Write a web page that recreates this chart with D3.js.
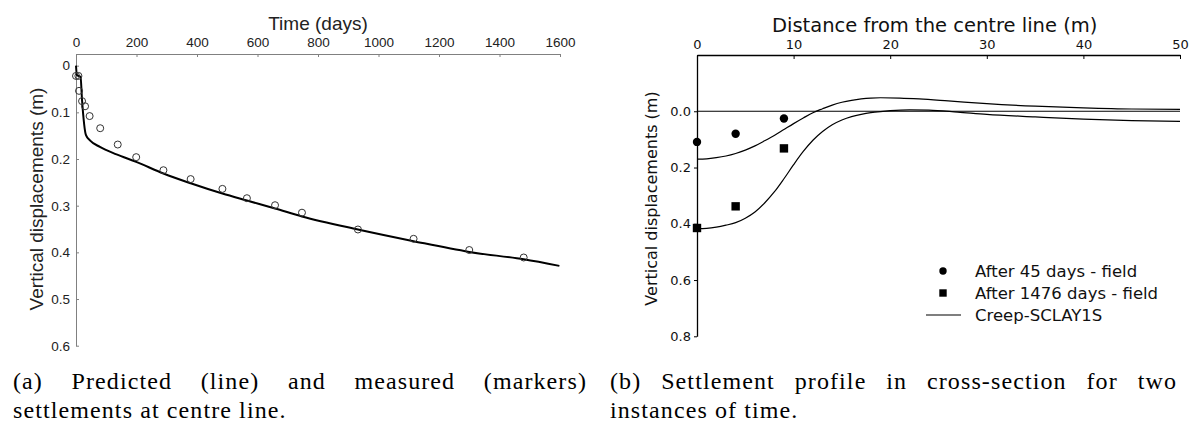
<!DOCTYPE html>
<html>
<head>
<meta charset="utf-8">
<script src="https://cdn.jsdelivr.net/npm/d3@7"></script>
<style>
  html, body { margin: 0; padding: 0; background: #fff; }
  svg { display: block; }
</style>
</head>
<body>
<svg id="chart" width="1190" height="428"></svg>
<script>
// ---------- Data: panel (a) ----------
const timeTicks = [0, 200, 400, 600, 800, 1000, 1200, 1400, 1600];
const settleTicks = [0, 0.1, 0.2, 0.3, 0.4, 0.5, 0.6];
const measuredTime = [0, 8, 10, 20, 30, 45, 80, 138, 199, 289, 379, 484, 565, 658, 747, 932, 1116, 1300, 1480];
const measuredSettle = [0.022, 0.022, 0.054, 0.076, 0.087, 0.108, 0.134, 0.169, 0.196, 0.224, 0.243, 0.264, 0.284, 0.299, 0.315, 0.351, 0.371, 0.395, 0.411];
const predTime = [0, 3, 15, 20, 33, 46, 79, 134, 199, 289, 379, 484, 565, 658, 747, 932, 1116, 1300, 1480, 1598];
const predSettle = [0, 0.02, 0.024, 0.074, 0.149, 0.16, 0.174, 0.19, 0.206, 0.231, 0.252, 0.274, 0.289, 0.306, 0.323, 0.351, 0.376, 0.399, 0.415, 0.429];

// ---------- Data: panel (b) ----------
const distTicks = [0, 10, 20, 30, 40, 50];
const dispTicks = [0, 0.2, 0.4, 0.6, 0.8];
const field45Dist = [0, 4, 9];
const field45Disp = [0.109, 0.080, 0.026];
const field1476Dist = [0, 4, 9];
const field1476Disp = [0.415, 0.338, 0.132];
const creep45Dist = [0, 1, 2, 3, 4, 5, 6, 7, 8, 9, 10, 11, 12, 13, 14, 15, 16, 17, 18, 19, 21, 23, 26, 30, 35, 40, 45, 50];
const creep45Disp = [0.170, 0.169, 0.165, 0.159, 0.150, 0.138, 0.123, 0.105, 0.086, 0.065, 0.044, 0.024, 0.005, -0.009, -0.022, -0.032, -0.039, -0.044, -0.047, -0.048, -0.047, -0.044, -0.037, -0.027, -0.018, -0.012, -0.008, -0.007];
const creep1476Dist = [0, 1, 2, 3, 4, 5, 6, 7, 8, 9, 10, 11, 12, 13, 14, 15, 16, 17, 18, 19, 20, 22, 24, 27, 30, 35, 40, 45, 50];
const creep1476Disp = [0.417, 0.416, 0.412, 0.405, 0.396, 0.380, 0.358, 0.326, 0.287, 0.240, 0.190, 0.143, 0.103, 0.072, 0.048, 0.031, 0.019, 0.011, 0.005, 0.001, -0.002, -0.005, -0.004, 0.003, 0.011, 0.020, 0.028, 0.033, 0.036];
const legendLabels = ["After 45 days - field", "After 1476 days - field", "Creep-SCLAY1S"];

const captionA = ["(a) Predicted (line) and measured (markers)", "settlements at centre line."];
const captionB = ["(b) Settlement profile in cross-section for two", "instances of time."];

const zip = (a, b) => a.map((v, i) => [v, b[i]]);

const svg = d3.select("#chart");

// ================= Panel (a) =================
const sansA = "'Liberation Sans', Arial, Helvetica, sans-serif";
const axisGray = "#808080";
const xA = d3.scaleLinear().domain([0, 1600]).range([76, 560]);
const yA = d3.scaleLinear().domain([-0.025, 0.6]).range([54, 345.7]);
const gA = svg.append("g");

const axA_x = gA.append("g").attr("transform", `translate(0,${yA(-0.025)})`)
  .call(d3.axisTop(xA).tickValues(timeTicks).tickSize(-3).tickSizeOuter(0).tickPadding(7.5).tickFormat(d3.format("d")));
const axA_y = gA.append("g").attr("transform", `translate(${xA(0)},0)`)
  .call(d3.axisLeft(yA).tickValues(settleTicks).tickSize(-3).tickSizeOuter(0).tickPadding(6)
    .tickFormat(d => d === 0 ? "0" : d3.format(".1f")(d)));
[axA_x, axA_y].forEach(ax => {
  ax.select(".domain").attr("stroke", axisGray).attr("stroke-width", 1);
  ax.selectAll(".tick line").attr("stroke", axisGray);
  ax.selectAll(".tick text").attr("fill", "#222").style("font-family", sansA).style("font-size", "13.5px");
});

gA.append("text").attr("x", (xA(0) + xA(1600)) / 2).attr("y", 29.5).attr("text-anchor", "middle")
  .style("font-family", sansA).style("font-size", "19px").attr("fill", "#222").text("Time (days)");
gA.append("text").attr("transform", `translate(42.6,199) rotate(-90)`).attr("text-anchor", "middle")
  .style("font-family", sansA).style("font-size", "19px").attr("fill", "#222").text("Vertical displacements (m)");

gA.append("path").datum(zip(predTime, predSettle))
  .attr("fill", "none").attr("stroke", "#000").attr("stroke-width", 2)
  .attr("d", d3.line().x(d => xA(d[0])).y(d => yA(d[1])).curve(d3.curveMonotoneX));

gA.selectAll("circle.meas").data(zip(measuredTime, measuredSettle)).join("circle")
  .attr("class", "meas").attr("cx", d => xA(d[0])).attr("cy", d => yA(d[1])).attr("r", 3.5)
  .attr("fill", "none").attr("stroke", "#333").attr("stroke-width", 1);

// ================= Panel (b) =================
const sansB = "'DejaVu Sans', sans-serif";
const xB = d3.scaleLinear().domain([0, 50]).range([697, 1180]);
const yB = d3.scaleLinear().domain([-0.2, 0.8]).range([55, 336.3]);
const gB = svg.append("g");

const axB_x = gB.append("g").attr("transform", `translate(0,${yB(-0.2)})`)
  .call(d3.axisTop(xB).tickValues(distTicks).tickSize(-4).tickSizeOuter(0).tickPadding(6).tickFormat(d3.format("d")));
const axB_y = gB.append("g").attr("transform", `translate(${xB(0)},0)`)
  .call(d3.axisLeft(yB).tickValues(dispTicks).tickSize(3).tickSizeOuter(0).tickPadding(3).tickFormat(d3.format(".1f")));
[axB_x, axB_y].forEach(ax => {
  ax.select(".domain").attr("stroke", "#000").attr("stroke-width", 1.3);
  ax.selectAll(".tick line").attr("stroke", "#000");
  ax.selectAll(".tick text").attr("fill", "#111").style("font-family", sansB).style("font-size", "13px");
});

gB.append("text").attr("x", 934.7).attr("y", 31.5).attr("text-anchor", "middle")
  .style("font-family", sansB).style("font-size", "19.5px").attr("fill", "#111").text("Distance from the centre line (m)");
gB.append("text").attr("transform", `translate(657,198.5) rotate(-90)`).attr("text-anchor", "middle")
  .style("font-family", sansB).style("font-size", "16px").attr("fill", "#111").text("Vertical displacements (m)");

// zero line
gB.append("line").attr("x1", xB(0)).attr("x2", xB(50)).attr("y1", yB(0)).attr("y2", yB(0))
  .attr("stroke", "#000").attr("stroke-width", 1.2);

const lineB = d3.line().x(d => xB(d[0])).y(d => yB(d[1])).curve(d3.curveMonotoneX);
[zip(creep45Dist, creep45Disp), zip(creep1476Dist, creep1476Disp)].forEach(s => {
  gB.append("path").datum(s).attr("fill", "none").attr("stroke", "#000").attr("stroke-width", 1.2).attr("d", lineB);
});

gB.selectAll("circle.f45").data(zip(field45Dist, field45Disp)).join("circle")
  .attr("class", "f45").attr("cx", d => xB(d[0])).attr("cy", d => yB(d[1])).attr("r", 4.2).attr("fill", "#000");
gB.selectAll("rect.f1476").data(zip(field1476Dist, field1476Disp)).join("rect")
  .attr("class", "f1476").attr("x", d => xB(d[0]) - 4.2).attr("y", d => yB(d[1]) - 4.2)
  .attr("width", 8.4).attr("height", 8.4).attr("fill", "#000");

// legend
const legX = 943, legTextX = 975, legY = [271, 293, 315];
const leg = gB.append("g");
leg.append("circle").attr("cx", legX).attr("cy", legY[0]).attr("r", 3.7).attr("fill", "#000");
leg.append("rect").attr("x", legX - 3.7).attr("y", legY[1] - 3.7).attr("width", 7.4).attr("height", 7.4).attr("fill", "#000");
leg.append("line").attr("x1", 926).attr("x2", 961).attr("y1", legY[2]).attr("y2", legY[2]).attr("stroke", "#000").attr("stroke-width", 1.2);
legendLabels.forEach((t, i) => {
  leg.append("text").attr("x", legTextX).attr("y", legY[i]).attr("dy", "0.35em")
    .style("font-family", sansB).style("font-size", "16.5px").attr("fill", "#111").text(t);
});

// ================= Captions =================
const serif = "'Liberation Serif', 'Times New Roman', serif";
function caption(lines, x0, x1, y0) {
  lines.forEach((t, i) => {
    const el = svg.append("text").attr("x", x0).attr("y", y0 + i * 29)
      .style("font-family", serif).style("font-size", "24px").style("letter-spacing", "1.1px")
      .attr("fill", "#000").text(t);
    if (i < lines.length - 1) {
      const w = el.node().getComputedTextLength();
      const gaps = t.split(" ").length - 1;
      el.style("word-spacing", ((x1 - x0 - w) / gaps) + "px");
    }
  });
}
caption(captionA, 13, 587, 389);
caption(captionB, 610, 1177, 389);
</script>
</body>
</html>
